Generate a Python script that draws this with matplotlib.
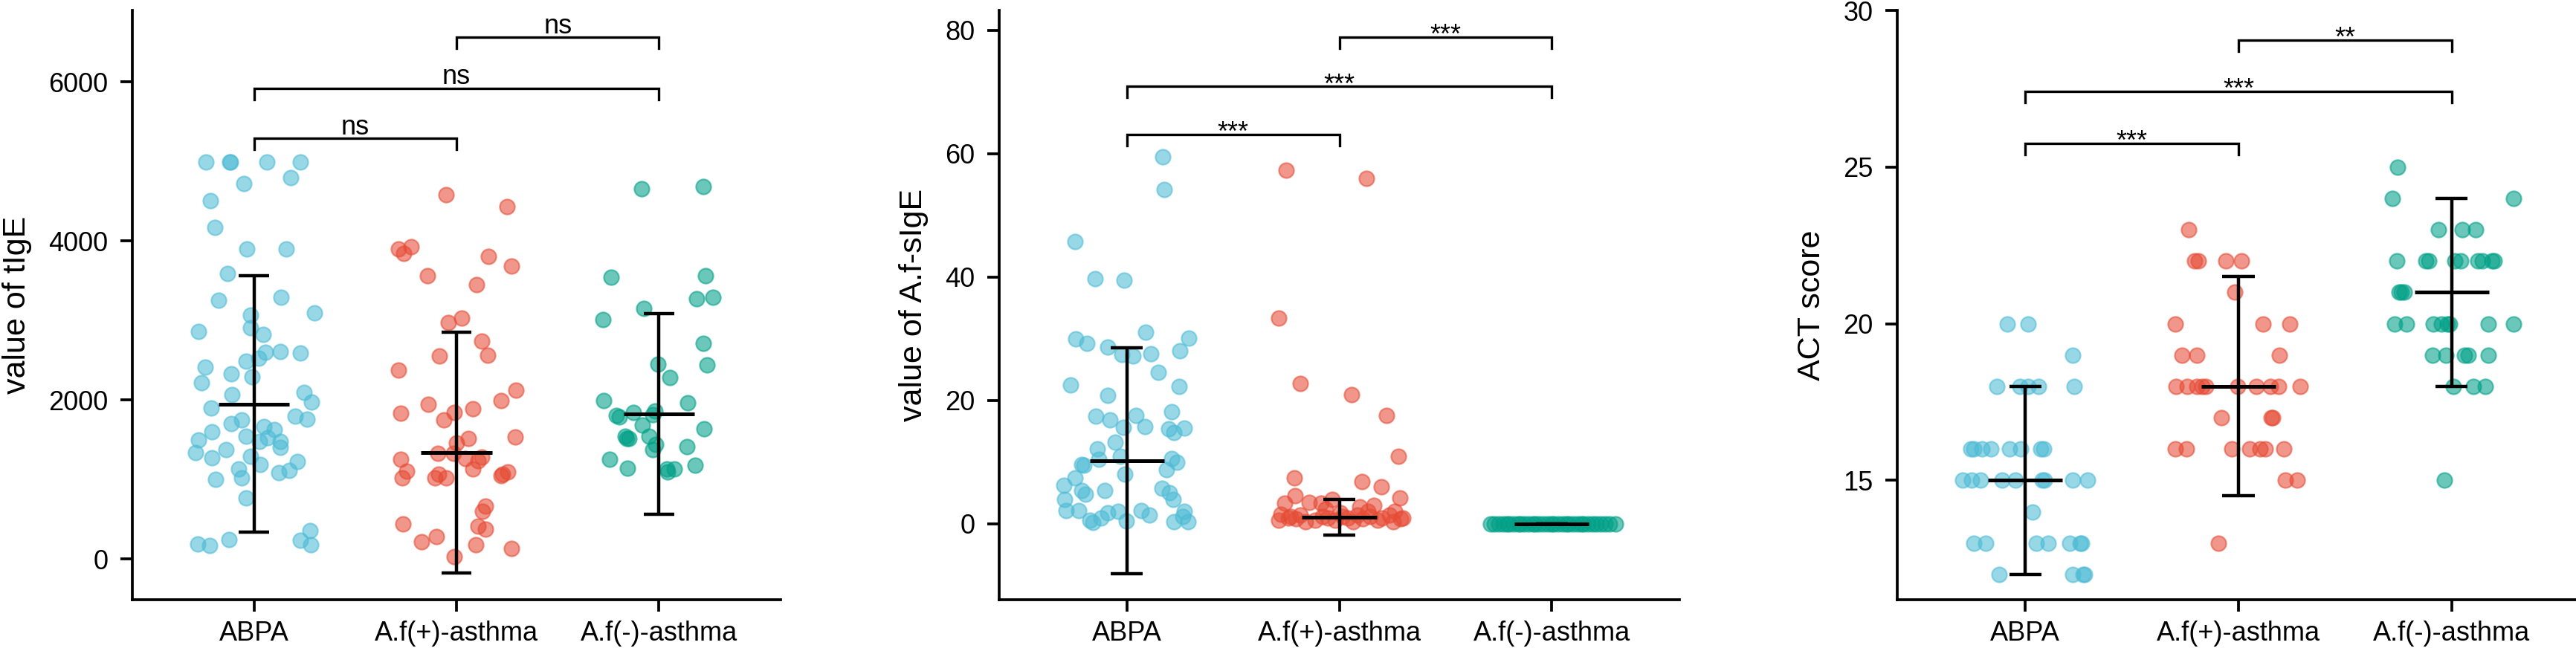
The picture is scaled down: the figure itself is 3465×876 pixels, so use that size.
import matplotlib.pyplot as plt

plt.rcParams['font.family'] = ['Liberation Sans', 'DejaVu Sans']

groups = ["ABPA", "A.f(+)-asthma", "A.f(-)-asthma"]
colors = ["#4DBBD5", "#E64B35", "#00A087"]

# ---- panel 1: total IgE ----
tige_abpa = [4990, 4990, 4990, 4990, 4990, 4800, 4720, 4510, 4170, 3905,
             3900, 3590, 3255, 3290, 3095, 3070, 2910, 2830, 2860, 2600,
             2530, 2490, 2610, 2590, 2415, 2330, 2290, 2215, 2065, 2095,
             1980, 1905, 1795, 1760, 1700, 1750, 1605, 1665, 1630, 1545,
             1530, 1480, 1480, 1410, 1495, 1340, 1375, 1275, 1295, 1195,
             1230, 1120, 1085, 1135, 1025, 1000, 770, 195, 175, 250,
             355, 235, 185]
tige_abpa_jit = [-0.238, -0.119, -0.115, 0.066, 0.230, 0.183, -0.049, -0.215, -0.193, -0.034,
                 0.161, -0.129, -0.174, 0.134, 0.299, -0.016, -0.016, 0.045, -0.274, 0.057,
                 0.024, -0.040, 0.130, 0.228, -0.241, -0.113, -0.010, -0.260, -0.110, 0.246,
                 0.283, -0.211, 0.204, 0.264, -0.111, -0.059, -0.208, 0.051, 0.100, -0.040,
                 0.069, 0.027, 0.130, 0.130, -0.275, -0.288, -0.138, -0.208, -0.016, 0.033,
                 0.216, 0.173, 0.122, -0.074, -0.059, -0.190, -0.040, -0.278, -0.219, -0.123,
                 0.277, 0.230, 0.279]
tige_afpos = [4580, 4430, 3900, 3925, 3840, 3810, 3685, 3560, 3450, 2975,
              3035, 2745, 2565, 2555, 2380, 2125, 1995, 1950, 1895, 1845,
              1755, 1840, 1520, 1465, 1540, 1330, 1330, 1270, 1285, 1240,
              1135, 1255, 1110, 1020, 1070, 1020, 1025, 1050, 1100, 1070,
              665, 600, 445, 285, 215, 415, 375, 180, 135, 30]
tige_afpos_jit = [-0.050, 0.249, -0.286, -0.223, -0.262, 0.158, 0.273, -0.144, 0.100, -0.040,
                  0.024, 0.124, 0.155, -0.085, -0.286, 0.293, 0.219, -0.138, 0.082, -0.010,
                  -0.062, -0.275, 0.057, 0.000, 0.289, -0.093, -0.016, 0.045, 0.124, 0.106,
                  0.079, -0.275, -0.247, -0.269, -0.089, -0.107, -0.050, 0.222, 0.252, 0.228,
                  0.143, 0.128, -0.266, -0.099, -0.174, 0.108, 0.143, 0.094, 0.273, -0.012]
tige_afneg = [4660, 4690, 3545, 3560, 3270, 3295, 3155, 3010, 2710, 2445,
              2455, 2280, 1990, 1970, 1845, 1810, 1785, 1860, 1815, 1690,
              1635, 1545, 1520, 1520, 1550, 1440, 1380, 1415, 1260, 1180,
              1145, 1130, 1130, 1100]
tige_afneg_jit = [-0.085, 0.217, -0.238, 0.228, 0.185, 0.266, -0.076, -0.277, 0.219, 0.235,
                  -0.004, 0.052, -0.274, 0.140, -0.126, -0.211, -0.195, -0.021, -0.030, -0.083,
                  0.223, -0.167, -0.158, -0.150, -0.049, -0.015, -0.030, 0.138, -0.244, 0.177,
                  -0.155, 0.037, 0.076, 0.043]
tige_center = [1950, 1340, 1825]
tige_sd = [1610, 1515, 1265]
tige_sig = ["ns", "ns", "ns"]

# ---- panel 2: A.f-sIgE ----
sige_abpa = [59.5, 54.2, 45.8, 39.7, 39.5, 31.0, 30.0, 29.2, 30.1, 28.7,
             27.5, 27.2, 27.6, 28.0, 24.6, 22.5, 22.3, 20.8, 17.5, 16.8,
             17.6, 15.8, 15.6, 18.2, 15.4, 14.8, 15.5, 13.2, 12.1, 10.5,
             9.6, 9.5, 10.9, 8.1, 10.6, 10.0, 8.8, 7.4, 6.2, 5.4,
             4.8, 5.4, 5.8, 5.0, 4.0, 4.0, 2.2, 2.1, 0.6, 0.2,
             1.0, 1.8, 2.0, 0.5, 2.1, 1.4, 0.4, 2.0, 0.4, 1.2]
sige_abpa_jit = [0.171, 0.175, -0.244, -0.149, -0.012, 0.090, -0.239, -0.186, 0.293, -0.091,
                 -0.024, 0.029, 0.113, 0.250, 0.148, -0.265, 0.247, -0.088, -0.147, -0.079,
                 0.043, 0.084, -0.017, 0.212, 0.197, 0.223, 0.270, -0.056, -0.137, -0.131,
                 -0.213, -0.201, -0.029, -0.009, 0.212, 0.235, 0.188, -0.245, -0.294, -0.213,
                 -0.195, -0.102, 0.165, 0.200, 0.218, -0.292, -0.285, -0.227, -0.172, -0.161,
                 -0.120, -0.091, -0.041, -0.003, 0.069, 0.107, 0.223, 0.270, 0.287, 0.264]
sige_afpos = [57.3, 56.0, 33.3, 22.8, 20.9, 17.6, 11.0, 7.5, 6.9, 6.0,
              4.5, 4.2, 3.4, 3.5, 3.4, 4.0, 2.8, 3.0, 2.4, 0.6,
              1.2, 0.8, 1.4, 0.6, 1.0, 1.2, 0.4, 0.8, 1.2, 1.0,
              1.4, 2.0, 0.8, 1.0, 1.0, 1.2, 1.0, 0.6, 0.6, 0.4,
              1.4, 2.0, 0.4, 1.6, 1.8]
sige_afpos_jit = [-0.249, 0.127, -0.284, -0.185, 0.059, 0.222, 0.278, -0.211, 0.106, 0.199,
                  -0.207, 0.284, -0.257, -0.141, -0.086, -0.033, 0.095, 0.162, -0.065, -0.284,
                  -0.228, -0.205, -0.182, -0.112, -0.054, 0.016, 0.063, 0.109, 0.144, 0.202,
                  0.237, 0.261, 0.290, 0.298, -0.240, -0.077, 0.040, 0.179, -0.019, -0.158,
                  0.086, 0.133, 0.255, -0.275, 0.005]
sige_afneg = [0.0, 0.0, 0.0, 0.0, 0.0, 0.0, 0.0, 0.0, 0.0, 0.0,
              0.0, 0.0, 0.0, 0.0, 0.0, 0.0, 0.0, 0.0, 0.0, 0.0,
              0.0, 0.0, 0.0, 0.0, 0.0, 0.0, 0.0, 0.0, 0.0, 0.0,
              0.0, 0.0, 0.0]
sige_afneg_jit = [-0.29, -0.27, -0.25, -0.23, -0.21, -0.20, -0.18, -0.16, -0.15, -0.13,
                  -0.11, -0.09, -0.08, -0.06, -0.04, -0.02, 0.00, 0.01, 0.03, 0.05,
                  0.07, 0.08, 0.10, 0.12, 0.14, 0.15, 0.17, 0.19, 0.21, 0.23,
                  0.25, 0.27, 0.30]
sige_center = [10.2, 1.1, 0.0]
sige_sd = [18.3, 2.9, 0.0]
sige_sig = ["***", "***", "***"]

# ---- panel 3: ACT score ----
act_abpa = [20, 20, 19, 18, 18, 18, 18, 18, 16, 16, 16, 16, 16, 16, 16, 16,
            15, 15, 15, 15, 15, 15, 15, 15, 15, 14, 13, 13, 13, 13, 13, 13, 13,
            12, 12, 12, 12]
act_abpa_jit = [-0.084, 0.013, 0.221, -0.132, -0.026, 0.015, 0.062, 0.228,
                -0.254, -0.240, -0.203, -0.161, -0.072, -0.020, 0.073, 0.085,
                -0.293, -0.250, -0.208, -0.109, -0.045, 0.079, 0.091, 0.224, 0.294,
                0.036, -0.240, -0.185, 0.052, 0.108, 0.207, 0.257, 0.265,
                -0.124, 0.222, 0.271, 0.280]
act_afpos = [23, 22, 22, 22, 22, 21, 20, 20, 20, 19, 19, 19,
             18, 18, 18, 18, 18, 18, 18, 18, 18, 18, 17, 17, 17,
             16, 16, 16, 16, 16, 16, 16, 15, 15, 13]
act_afpos_jit = [-0.232, -0.206, -0.188, -0.060, 0.013, -0.016, -0.298, 0.114, 0.242,
                 -0.266, -0.196, 0.192, -0.293, -0.240, -0.194, -0.171, -0.153, -0.005,
                 0.082, 0.149, 0.189, 0.290, -0.080, 0.154, 0.160, -0.298, -0.244, -0.031,
                 0.052, 0.102, 0.125, 0.213, 0.218, 0.276, -0.095]
act_afneg = [25, 24, 24, 23, 23, 23, 22, 22, 22, 22, 22, 22, 22, 22, 22,
             21, 21, 21, 20, 20, 20, 20, 20, 20, 20, 20, 19, 19, 19, 19, 19,
             18, 18, 18, 15]
act_afneg_jit = [-0.253, -0.279, 0.289, -0.062, 0.049, 0.113, -0.259, -0.120, -0.108,
                 0.014, 0.043, 0.124, 0.142, 0.188, 0.200, -0.247, -0.236, -0.224,
                 -0.267, -0.213, -0.085, -0.050, -0.021, -0.009, 0.171, 0.289,
                 -0.091, -0.027, 0.060, 0.078, 0.171, 0.006, 0.101, 0.156, -0.035]
act_center = [15, 18, 21]
act_sd = [3.0, 3.5, 3.0]
act_sig = ["***", "***", "**"]


def draw_panel(ax, series, jitters, centers, sds, sig, bracket_y, tip, ylim, yticks, ylabel):
    for i, (vals, jit) in enumerate(zip(series, jitters)):
        xs = [i + 1 + j for j in jit]
        ax.scatter(xs, vals, s=210, color=colors[i], edgecolors=colors[i],
                   linewidths=1.6, alpha=0.58, zorder=2, clip_on=False)
    for i, (c, sd) in enumerate(zip(centers, sds)):
        x = i + 1
        ax.vlines(x, c - sd, c + sd, color="black", lw=3.2, zorder=3)
        ax.hlines([c - sd, c + sd], x - 0.075, x + 0.075, color="black", lw=3.2, zorder=3)
        ax.hlines(c, x - 0.175, x + 0.175, color="black", lw=3.6, zorder=3)

    pairs = [(1, 2), (1, 3), (2, 3)]
    for (a, b), y, lab in zip(pairs, bracket_y, sig):
        ax.plot([a, a, b, b], [y - tip, y, y, y - tip], color="black", lw=2.4,
                solid_joinstyle="miter", clip_on=False)
        off = 4 if lab == "ns" else -6
        ax.annotate(lab, xy=((a + b) / 2, y), xytext=(0, off), textcoords="offset points",
                    ha="center", va="baseline", fontsize=26)

    ax.set_xlim(0.4, 3.6)
    ax.set_ylim(*ylim)
    ax.set_yticks(yticks)
    ax.set_xticks([1, 2, 3])
    ax.set_xticklabels(groups)
    ax.set_ylabel(ylabel, fontsize=31, labelpad=16)
    for side in ["top", "right"]:
        ax.spines[side].set_visible(False)
    for side in ["left", "bottom"]:
        ax.spines[side].set_linewidth(2.7)
    ax.tick_params(axis="both", labelsize=26, length=11.5, width=2.7, colors="black")
    ax.tick_params(axis="y", pad=12)
    ax.tick_params(axis="x", pad=9)


fig = plt.figure(figsize=(34.65, 8.76), dpi=100)
W, H = 3465.0, 876.0
top_px, bot_px = 14, 807
boxes = [(178, 1050), (1344, 2259), (2552, 3470)]
axes = [fig.add_axes([l / W, 1 - bot_px / H, (r - l) / W, (bot_px - top_px) / H]) for l, r in boxes]

draw_panel(axes[0], [tige_abpa, tige_afpos, tige_afneg],
           [tige_abpa_jit, tige_afpos_jit, tige_afneg_jit],
           tige_center, tige_sd, tige_sig, [5290, 5920, 6560], 140,
           (-510, 6900), [0, 2000, 4000, 6000], "value of tIgE")
draw_panel(axes[1], [sige_abpa, sige_afpos, sige_afneg],
           [sige_abpa_jit, sige_afpos_jit, sige_afneg_jit],
           sige_center, sige_sd, sige_sig, [63.1, 70.9, 78.9], 1.8,
           (-12.3, 83.2), [0, 20, 40, 60, 80], "value of A.f-sIgE")
draw_panel(axes[2], [act_abpa, act_afpos, act_afneg],
           [act_abpa_jit, act_afpos_jit, act_afneg_jit],
           act_center, act_sd, act_sig, [25.76, 27.42, 29.06], 0.36,
           (11.19, 30), [15, 20, 25, 30], "ACT score")

fig.savefig("out.png", dpi=100)
